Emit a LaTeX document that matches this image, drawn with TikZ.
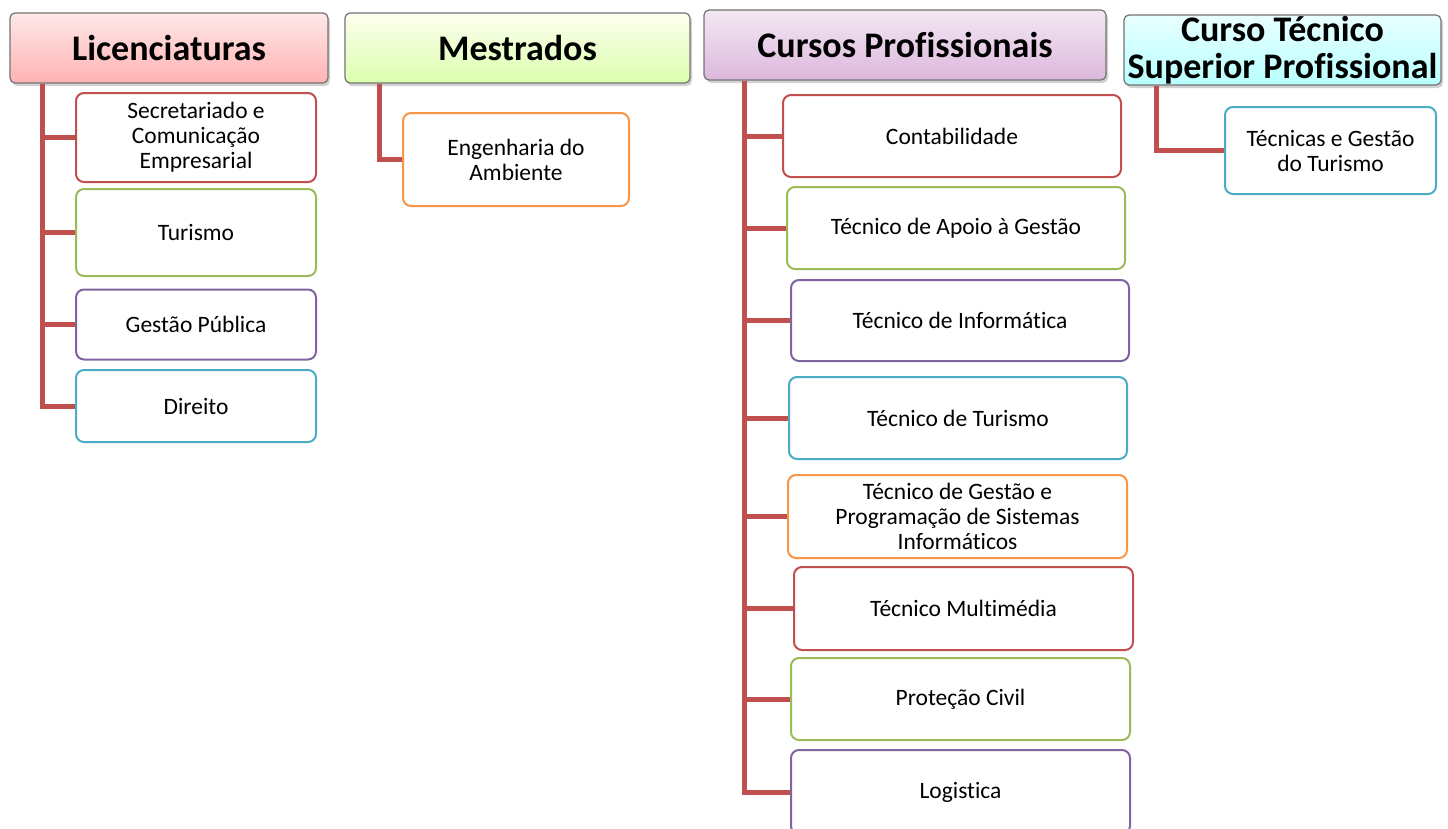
\documentclass[tikz,border=0pt]{standalone}
\usepackage{fontspec}
\setmainfont{Carlito}[Ligatures=NoCommon]
\usepackage{xcolor}
\usepackage{tikz}
\usetikzlibrary{shadows,positioning}
\definecolor{accred}{HTML}{C0504D}
\definecolor{accgreen}{HTML}{9BBB59}
\definecolor{accpurple}{HTML}{8064A2}
\definecolor{accblue}{HTML}{4BACC6}
\definecolor{accorange}{HTML}{F79646}
\tikzstyle{head} = [rectangle, rounded corners=5pt, draw=black!55, line width=1.2pt, align=center,
  font={\fontsize{36}{36.5}\selectfont\bfseries}, minimum height=70pt, inner sep=1pt,
  drop shadow={shadow xshift=2pt, shadow yshift=-3pt, opacity=.35}]
\tikzstyle{item} = [rectangle, rounded corners=8pt, line width=2pt, fill=white, align=center,
  font={\fontsize{23.5}{25}\selectfont}, inner sep=2pt]
\tikzstyle{branch} = [draw=accred, line width=5pt]

\begin{document}
\begin{tikzpicture}[x=1pt, y=-1pt]
    \clip (0,0) rectangle (1448,828);
    \fill[white] (0,0) rectangle (1448,828);
    % column headers
    \node [head, top color=red!9, bottom color=red!30!white, minimum width=318pt] at (169,48) (lic)
      {Licenciaturas};
    \node [head, top color=green!5!yellow!6, bottom color=green!45!yellow!32, minimum width=345pt] at (517.5,48) (mes)
      {Mestrados};
    \node [head, top color=violet!9, bottom color=violet!28!white, minimum width=402pt] at (905,45) (cp)
      {Cursos Profissionais};
    \node [head, top color=cyan!9, bottom color=cyan!28!white, minimum width=317pt] at (1282.5,50) (ctsp)
      {Curso Técnico\\Superior Profissional};
    % Licenciaturas
    \node [item, draw=accred, minimum width=240pt, minimum height=89pt] at (196,137.5) (sec)
      {Secretariado e\\Comunicação\\Empresarial};
    \node [item, draw=accgreen, minimum width=240pt, minimum height=87pt] at (196,232.5) (tur)
      {Turismo};
    \node [item, draw=accpurple, minimum width=240pt, minimum height=70pt] at (196,324.5) (gp)
      {Gestão Pública};
    \node [item, draw=accblue, minimum width=240pt, minimum height=72pt] at (196,406) (dir)
      {Direito};
    % Mestrados
    \node [item, draw=accorange, minimum width=226pt, minimum height=93pt] at (516,159.5) (eng)
      {Engenharia do\\Ambiente};
    % Cursos Profissionais
    \node [item, draw=accred, minimum width=338pt, minimum height=82pt] at (952,136) (con)
      {Contabilidade};
    \node [item, draw=accgreen, minimum width=338pt, minimum height=82pt] at (956,228) (tag)
      {Técnico de Apoio à Gestão};
    \node [item, draw=accpurple, minimum width=338pt, minimum height=81pt] at (960,320.5) (tinf)
      {Técnico de Informática};
    \node [item, draw=accblue, minimum width=338pt, minimum height=82pt] at (958,418) (ttur)
      {Técnico de Turismo};
    \node [item, draw=accorange, minimum width=339pt, minimum height=83pt] at (957.5,516.5) (tgp)
      {Técnico de Gestão e\\Programação de Sistemas\\Informáticos};
    \node [item, draw=accred, minimum width=339pt, minimum height=83pt] at (963.5,608.5) (tmm)
      {Técnico Multimédia};
    \node [item, draw=accgreen, minimum width=339pt, minimum height=82pt] at (960.5,699) (pc)
      {Proteção Civil};
    \node [item, draw=accpurple, minimum width=339pt, minimum height=84pt] at (960.5,792) (log)
      {Logistica};
    % Curso Tecnico Superior Profissional
    \node [item, draw=accblue, minimum width=211pt, minimum height=87pt] at (1330.5,150.5) (tgt)
      {Técnicas e Gestão\\do Turismo};
    % connectors
    \foreach \c in {sec,tur,gp,dir}
      \path [branch] ([xshift=33pt]lic.south west) |- (\c.west);
    \path [branch] ([xshift=35pt]mes.south west) |- (eng.west);
    \foreach \c in {con,tag,tinf,ttur,tgp,tmm,pc,log}
      \path [branch] ([xshift=41pt]cp.south west) |- (\c.west);
    \path [branch] ([xshift=33pt]ctsp.south west) |- (tgt.west);
  \end{tikzpicture}
\end{document}
